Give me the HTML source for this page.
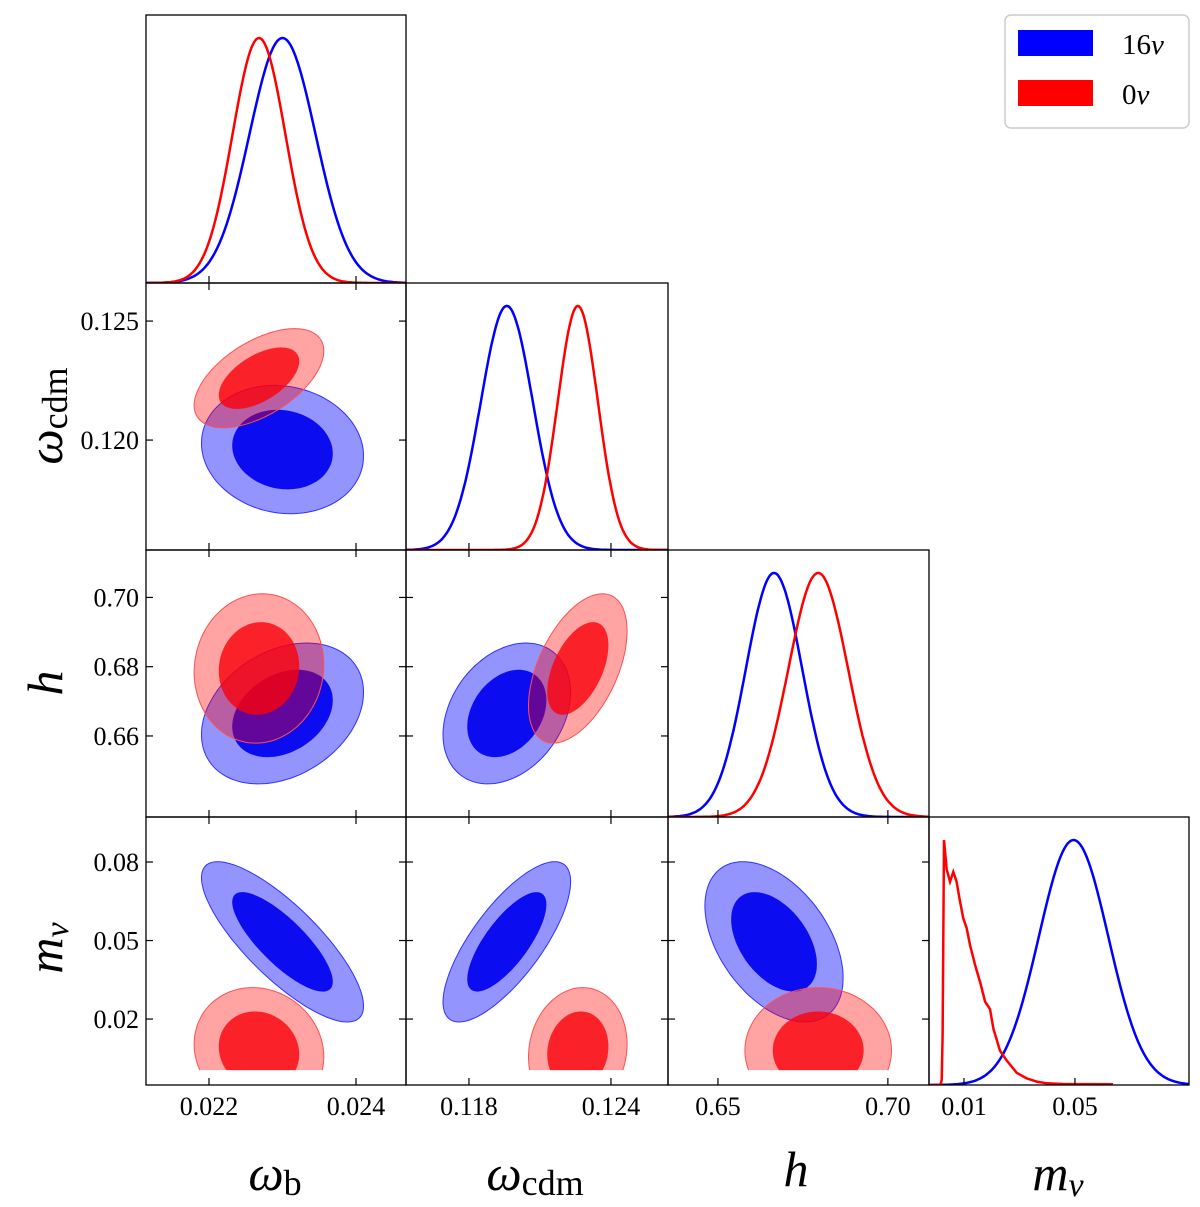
<!DOCTYPE html>
<html><head><meta charset="utf-8"><style>
body{margin:0;background:#fff;}
svg{display:block;font-family:"Liberation Serif","DejaVu Serif",serif;}
</style></head><body>
<svg id="c" width="1200" height="1207" viewBox="0 0 1200 1207" xmlns="http://www.w3.org/2000/svg"></svg>
<script>
// ---------- data ----------
const params = ['wb','wcdm','h','mnu'];
const blueMean = [0.0230, 0.1196, 0.6665, 0.0495];
const blueSigma = [0.00045, 0.0011, 0.0083, 0.0125];
const redMean = [0.02268, 0.1226, 0.6795, 0.008];
const redSigma = [0.00036, 0.00085, 0.0088, 0.0098];
// correlations: pairs [i,j]
const pairs = [[0,1],[0,2],[1,2],[0,3],[1,3],[2,3]];
const blueCorr = [-0.1, 0.3, 0.3, -0.8, 0.75, -0.45];
const redCorr = [0.55, 0.05, 0.5, -0.1, 0.1, 0.0];
const redMnuFloor = 0.0005;
// red m_nu marginal histogram (jagged)
const redMnuX = [0.0015,0.00197,0.0023,0.0028,0.00377,0.00496,0.00616,0.00736,0.00856,0.00976,0.011,0.0122,0.014,0.0158,0.0176,0.0194,0.0206,0.023,0.0254,0.029,0.0326,0.0362,0.0398,0.0457,0.0637];
const redMnuY = [0,0.02,0.2,1.0,0.88,0.83,0.87,0.83,0.75,0.68,0.64,0.57,0.49,0.42,0.34,0.31,0.23,0.14,0.10,0.05,0.027,0.014,0.007,0.004,0.003];
const colTicks = [[0.022,0.024],[0.118,0.124],[0.65,0.70],[0.01,0.05]];
const colTickLabels = [['0.022','0.024'],['0.118','0.124'],['0.65','0.70'],['0.01','0.05']];
const rowTicks = [[],[0.120,0.125],[0.66,0.68,0.70],[0.02,0.05,0.08]];
const rowTickLabels = [[],['0.120','0.125'],['0.66','0.68','0.70'],['0.02','0.05','0.08']];
// ---------- layout ----------
const X0=[146,406,668,929], X1=[406,668,929,1189];
const Y0=[15,283,550,817], Y1=[283,550,817,1085];
const colRange=[[0.021143,0.02468],[0.11534,0.12641],[0.6353,0.7121],[-0.0026,0.0911]];
const rowRange=[[0,1],[0.11538,0.1266],[0.6366,0.7137],[-0.0052,0.0972]];
function sx(i,v){const r=colRange[i];return X0[i]+(v-r[0])/(r[1]-r[0])*(X1[i]-X0[i]);}
function sy(j,v){const r=rowRange[j];return Y1[j]-(v-r[0])/(r[1]-r[0])*(Y1[j]-Y0[j]);}
const NS='http://www.w3.org/2000/svg';
const svg=document.getElementById('c');
function mk(tag,attrs,parent){const e=document.createElementNS(NS,tag);for(const k in attrs)e.setAttribute(k,attrs[k]);(parent||svg).appendChild(e);return e;}
const defs=mk('defs',{});
for(let i=0;i<4;i++)for(let j=i;j<4;j++){
  const cp=mk('clipPath',{id:'cp'+i+j},defs);
  mk('rect',{x:X0[i],y:Y0[j],width:X1[i]-X0[i],height:Y1[j]-Y0[j]},cp);
}
for(let i=0;i<3;i++){
  const cp=mk('clipPath',{id:'cpm'+i},defs);
  mk('rect',{x:X0[i],y:Y0[3],width:X1[i]-X0[i],height:sy(3,redMnuFloor)-Y0[3],rx:14},cp);
}
function ellipse(i,j,mean,sig,rho,k){
  let pts=[];
  for(let t=0;t<=120;t++){const th=t/120*2*Math.PI;
    const vx=mean[i]+k*sig[i]*Math.cos(th);
    const vy=mean[j]+k*sig[j]*(rho*Math.cos(th)+Math.sqrt(1-rho*rho)*Math.sin(th));
    pts.push(sx(i,vx).toFixed(1)+','+sy(j,vy).toFixed(1));}
  return pts.join(' ');
}
// ---------- 2D panels ----------
pairs.forEach((p,n)=>{
  const i=p[0],j=p[1];
  const g=mk('g',{'clip-path':'url(#cp'+i+j+')'});
  
  
  const bo=mk('polygon',{points:ellipse(i,j,blueMean,blueSigma,blueCorr[n],2.45),fill:'rgba(0,0,255,0.42)',stroke:'#3030ff','stroke-width':1},g);
  
  const bi=mk('polygon',{points:ellipse(i,j,blueMean,blueSigma,blueCorr[n],1.52),fill:'rgba(0,0,240,0.92)',stroke:'none'},g);
  
  const rg=mk('g',j===3?{'clip-path':'url(#cpm'+i+')'}:{},g);
  const ro=mk('polygon',{points:ellipse(i,j,redMean,redSigma,redCorr[n],2.45),fill:'rgba(255,0,0,0.36)',stroke:'#ff5050','stroke-width':1},rg);
  
  const ri=mk('polygon',{points:ellipse(i,j,redMean,redSigma,redCorr[n],1.52),fill:'rgba(250,0,10,0.8)',stroke:'none'},rg);
  
});
// ---------- marginals ----------
function gaussPath(i,m,s){
  let pts=[];const N=200;
  for(let t=0;t<=N;t++){const v=colRange[i][0]+(colRange[i][1]-colRange[i][0])*t/N;
    const d=Math.exp(-0.5*Math.pow((v-m)/s,2));
    pts.push(sx(i,v).toFixed(1)+','+(Y1[i]-d/1.094*(Y1[i]-Y0[i])).toFixed(1));}
  return pts.join(' ');
}
for(let i=0;i<4;i++){
  const g=mk('g',{'clip-path':'url(#cp'+i+i+')'});
  
  
  const b=mk('polyline',{points:gaussPath(i,blueMean[i],blueSigma[i]),fill:'none',stroke:'#0000ff','stroke-width':2.5},g);
  
  let rp;
  if(i<3) rp=gaussPath(i,redMean[i],redSigma[i]);
  else{
    let pts=[sx(3,colRange[3][0]).toFixed(1)+','+Y1[3]];
    redMnuX.forEach((v,k)=>pts.push(sx(3,v).toFixed(1)+','+(Y1[3]-redMnuY[k]/1.094*(Y1[3]-Y0[3])).toFixed(1)));
    rp=pts.join(' ');
  }
  const r=mk('polyline',{points:rp,fill:'none',stroke:'#ff0000','stroke-width':2.5},g);
  
}
// ---------- frames & ticks ----------
for(let i=0;i<4;i++)for(let j=i;j<4;j++){
  const f=mk('rect',{x:X0[i],y:Y0[j],width:X1[i]-X0[i],height:Y1[j]-Y0[j],fill:'none',stroke:'#000','stroke-width':1.3});
  
  colTicks[i].forEach(v=>{const x=sx(i,v);
    mk('line',{x1:x,x2:x,y1:Y1[j],y2:Y1[j]-7,stroke:'#000','stroke-width':1.2});
    if(j>i) mk('line',{x1:x,x2:x,y1:Y0[j],y2:Y0[j]+7,stroke:'#000','stroke-width':1.2});});
  if(j>i) rowTicks[j].forEach(v=>{const y=sy(j,v);
    mk('line',{x1:X0[i],x2:X0[i]+7,y1:y,y2:y,stroke:'#000','stroke-width':1.2});
    mk('line',{x1:X1[i],x2:X1[i]-7,y1:y,y2:y,stroke:'#000','stroke-width':1.2});});
}
for(let i=0;i<4;i++){
  colTicks[i].forEach((v,k)=>{const t=mk('text',{x:sx(i,v),y:1115,'text-anchor':'middle','font-size':26});
    t.textContent=colTickLabels[i][k];
    });
}
for(let j=1;j<4;j++){
  rowTicks[j].forEach((v,k)=>{const t=mk('text',{x:139,y:sy(j,v)+9,'text-anchor':'end','font-size':26});
    t.textContent=rowTickLabels[j][k];
    });
}
</script>
<!-- axis titles -->
<svg width="1200" height="1207" style="position:absolute;left:0;top:0" xmlns="http://www.w3.org/2000/svg" font-family="Liberation Serif, DejaVu Serif, serif">
<g font-size="50" font-style="italic" text-anchor="middle">
<text x="275" y="1190">ω<tspan font-style="normal" font-size="36" dy="5">b</tspan></text>
<text x="535" y="1190">ω<tspan font-style="normal" font-size="36" dy="5">cdm</tspan></text>
<text x="796" y="1186">h</text>
<text x="1058" y="1190">m<tspan font-size="34" dy="6">ν</tspan></text>
</g>
<g font-size="50" font-style="italic" text-anchor="middle">
<text transform="translate(62,416) rotate(-90)">ω<tspan font-style="normal" font-size="36" dy="5">cdm</tspan></text>
<text transform="translate(62,683) rotate(-90)">h</text>
<text transform="translate(62,948) rotate(-90)">m<tspan font-size="34" dy="6">ν</tspan></text>
</g>
<g>
<rect x="1005" y="15" width="184" height="113" rx="6" fill="#fff" stroke="#ccc" stroke-width="1.5"/>
<rect x="1018" y="30" width="75" height="26" fill="#0000ff"/>
<text x="1122" y="54" font-size="29">16<tspan font-style="italic">ν</tspan></text>
<rect x="1018" y="80" width="75" height="26" fill="#ff0000"/>
<text x="1122" y="104" font-size="29">0<tspan font-style="italic">ν</tspan></text>
</g>
</svg>
</body></html>
